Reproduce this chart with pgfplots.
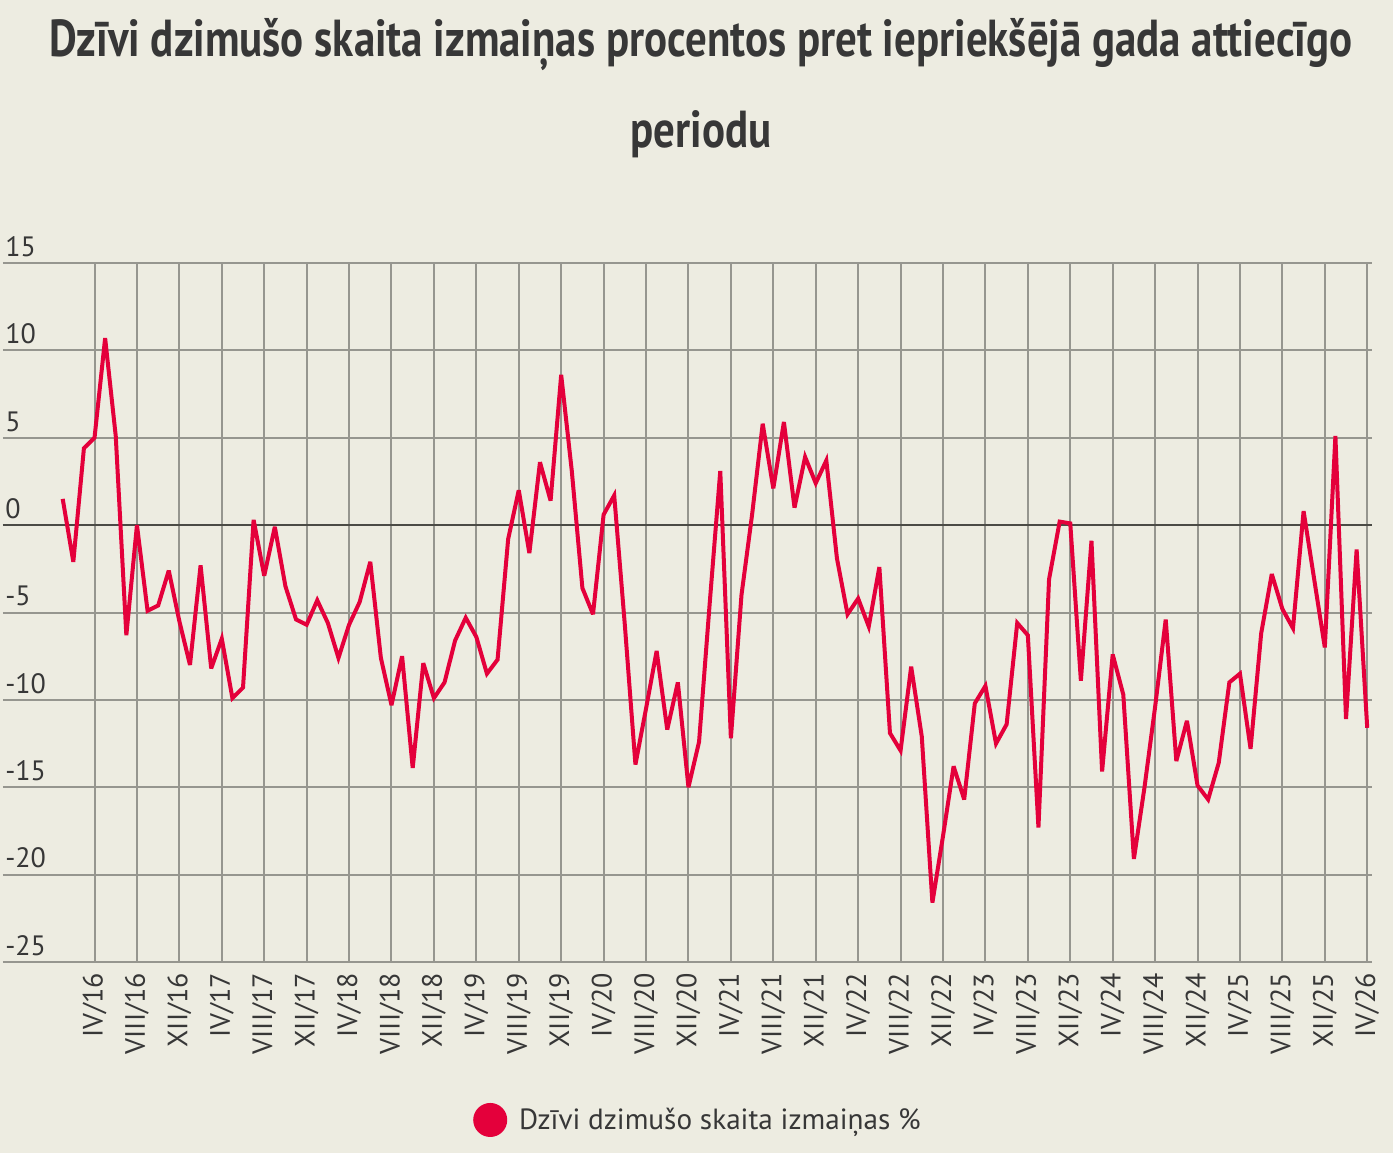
\documentclass[border=0pt]{standalone}
\usepackage{fontspec}
\setmainfont{PT Sans}
\newfontfamily\titlefont[FakeStretch=0.825]{PT Sans}
\usepackage{pgfplots}
\pgfplotsset{compat=1.18}
\usepackage{pgfplotstable}

\definecolor{bg}{RGB}{237,236,225}
\definecolor{linered}{RGB}{228,0,59}
\definecolor{gridgray}{RGB}{150,150,143}
\definecolor{zerogray}{RGB}{75,75,70}
\definecolor{txt}{RGB}{55,55,55}

% month index (0 = I/2016), change in births vs. same period of previous year, %
\pgfplotstableread{
m v
0 1.5
1 -2.1
2 4.4
3 5.0
4 10.7
5 5.1
6 -6.3
7 0.0
8 -4.9
9 -4.6
10 -2.6
11 -5.5
12 -8.0
13 -2.3
14 -8.2
15 -6.5
16 -9.9
17 -9.3
18 0.3
19 -2.9
20 -0.1
21 -3.5
22 -5.4
23 -5.7
24 -4.3
25 -5.6
26 -7.6
27 -5.7
28 -4.4
29 -2.1
30 -7.6
31 -10.3
32 -7.5
33 -13.9
34 -7.9
35 -9.9
36 -9.0
37 -6.6
38 -5.3
39 -6.4
40 -8.5
41 -7.7
42 -0.8
43 2.0
44 -1.6
45 3.6
46 1.4
47 8.6
48 3.1
49 -3.6
50 -5.1
51 0.6
52 1.7
53 -5.7
54 -13.7
55 -10.5
56 -7.2
57 -11.7
58 -9.0
59 -15.0
60 -12.4
61 -4.5
62 3.1
63 -12.2
64 -4.0
65 0.6
66 5.8
67 2.1
68 5.9
69 1.0
70 3.9
71 2.4
72 3.7
73 -1.9
74 -5.1
75 -4.2
76 -5.8
77 -2.4
78 -11.9
79 -12.9
80 -8.1
81 -12.1
82 -21.6
83 -17.8
84 -13.8
85 -15.7
86 -10.2
87 -9.2
88 -12.5
89 -11.4
90 -5.6
91 -6.3
92 -17.3
93 -3.1
94 0.2
95 0.1
96 -8.9
97 -0.9
98 -14.1
99 -7.4
100 -9.7
101 -19.1
102 -15.0
103 -10.4
104 -5.4
105 -13.5
106 -11.2
107 -14.9
108 -15.7
109 -13.6
110 -9.0
111 -8.5
112 -12.8
113 -6.2
114 -2.8
115 -4.8
116 -5.9
117 0.8
118 -3.1
119 -7.0
120 5.1
121 -11.1
122 -1.4
123 -11.6
}\births

\begin{document}
\begin{tikzpicture}
\fill[bg] (0,0) rectangle (696.5pt,576.5pt);
\path[use as bounding box] (0,0) rectangle (696.5pt,576.5pt);

\node[anchor=base, text=txt, inner sep=0pt, font=\titlefont\bfseries\fontsize{26}{30}\selectfont]
  at (350.5pt,548pt) {Dzīvi dzimušo skaita izmaiņas procentos pret iepriekšējā gada attiecīgo};
\node[anchor=base, text=txt, inner sep=0pt, font=\titlefont\bfseries\fontsize{26}{30}\selectfont]
  at (350.5pt,502.5pt) {periodu};

\begin{axis}[
  scale only axis,
  width=684.5pt, height=349.5pt,
  at={(1.5pt,95.5pt)}, anchor=south west,
  xmin=-5.63, xmax=123.45,
  ymin=-25, ymax=15,
  xtick={3,7,...,123},
  xticklabels={IV/16,VIII/16,XII/16,IV/17,VIII/17,XII/17,IV/18,VIII/18,XII/18,
    IV/19,VIII/19,XII/19,IV/20,VIII/20,XII/20,IV/21,VIII/21,XII/21,IV/22,VIII/22,XII/22,
    IV/23,VIII/23,XII/23,IV/24,VIII/24,XII/24,IV/25,VIII/25,XII/25,IV/26},
  ytick={-25,-20,...,15},
  yticklabels={-25,-20,-15,-10,-5,0,5,10,15},
  grid=major,
  major grid style={line width=1pt, draw=gridgray},
  axis line style={draw=none},
  tick style={draw=none},
  tick align=inside,
  major tick length=0pt,
  extra y ticks={0},
  extra y tick labels={},
  extra y tick style={major grid style={line width=1pt, draw=zerogray}},
  xticklabel style={font=\fontsize{14}{16}\selectfont, text=txt, rotate=90, anchor=east, inner sep=0pt, xshift=-5.5pt},
  yticklabel style={font=\fontsize{14}{16}\selectfont, text=txt, anchor=south west, inner sep=0pt, xshift=1pt, yshift=3pt},
  legend style={at={(0.5084,-0.226)}, anchor=center, draw=none, fill=none,
    font=\fontsize{14.6}{17}\selectfont, text=txt},
  legend image code/.code={\fill[linered] (7.5pt,0pt) circle (7.5pt); \path (19pt,0pt);},
]
\addplot[linered, line width=2pt, miter limit=4] table[x=m, y=v]{\births};
\addlegendentry{Dzīvi dzimušo skaita izmaiņas \%}
\end{axis}
\end{tikzpicture}
\end{document}
